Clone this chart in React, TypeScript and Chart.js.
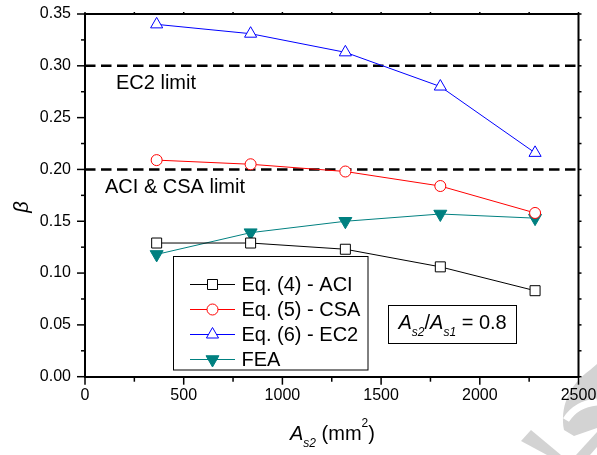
import React, { useEffect, useRef } from 'react';
import { Chart, registerables } from 'chart.js';

Chart.register(...registerables);

// ---------- data ----------
const xValues = [363, 839, 1319, 1800, 2280];
const aciValues = [0.129, 0.129, 0.123, 0.106, 0.083];
const csaValues = [0.209, 0.205, 0.198, 0.184, 0.158];
const ec2Values = [0.340, 0.331, 0.313, 0.280, 0.216];
const feaValues = [0.118, 0.139, 0.150, 0.157, 0.153];
const seriesLabels = ['Eq. (4) - ACI', 'Eq. (5) - CSA', 'Eq. (6) - EC2', 'FEA'];

const limitValues = [0.30, 0.20];
const limitLabels = ['EC2 limit', 'ACI & CSA limit'];

const xMin = 0;
const xMax = 2500;
const yMin = 0;
const yMax = 0.35;
const xTicks = [0, 500, 1000, 1500, 2000, 2500];
const yTicks = [0, 0.05, 0.1, 0.15, 0.2, 0.25, 0.3, 0.35];
const xMinorStep = 250;
const yMinorStep = 0.025;
const ratioValue = '0.8';

const FONT = '"Liberation Sans", Arial, Helvetica, sans-serif';

function drawMarker(ctx: any, ds: any, x: number, y: number) {
  const r = ds.pointRadius;
  ctx.save();
  ctx.fillStyle = ds.pointBackgroundColor;
  ctx.strokeStyle = ds.pointBorderColor;
  ctx.lineWidth = ds.pointBorderWidth;
  ctx.beginPath();
  if (ds.pointStyle === 'rect') {
    const s = r * Math.SQRT1_2;
    ctx.rect(x - s, y - s, 2 * s, 2 * s);
  } else if (ds.pointStyle === 'circle') {
    ctx.arc(x, y, r, 0, Math.PI * 2);
  } else {
    let rad = ((ds.pointRotation || 0) * Math.PI) / 180;
    ctx.moveTo(x + Math.sin(rad) * r, y - Math.cos(rad) * r);
    for (let k = 0; k < 2; k++) {
      rad += (2 * Math.PI) / 3;
      ctx.lineTo(x + Math.sin(rad) * r, y - Math.cos(rad) * r);
    }
    ctx.closePath();
  }
  ctx.fill();
  ctx.stroke();
  ctx.restore();
}

function drawRich(ctx: any, parts: any[], x0: number, y0: number) {
  let x = x0;
  for (const p of parts) {
    ctx.font = `${p.italic ? 'italic ' : ''}${p.size}px ${FONT}`;
    ctx.fillText(p.text, x, y0 + (p.dy || 0));
    x += ctx.measureText(p.text).width;
  }
  return x;
}

const decorPlugin = {
  id: 'decor',
  beforeDraw(chart: any) {
    // light grey watermark fragment at the bottom-right corner
    const ctx = chart.ctx;
    ctx.save();
    ctx.fillStyle = '#d3d3d3';
    ctx.beginPath();
    ctx.moveTo(590, 370);
    ctx.bezierCurveTo(568, 386, 560, 408, 564, 430);
    ctx.lineTo(574, 436);
    ctx.lineTo(597, 428);
    ctx.lineTo(597, 364);
    ctx.closePath();
    ctx.fill();
    ctx.beginPath();
    ctx.moveTo(597, 432);
    ctx.lineTo(597, 447);
    ctx.lineTo(590, 455);
    ctx.lineTo(576, 455);
    ctx.closePath();
    ctx.fill();
    ctx.beginPath();
    ctx.moveTo(521, 441);
    ctx.lineTo(531, 430);
    ctx.lineTo(561, 455);
    ctx.lineTo(547, 455);
    ctx.closePath();
    ctx.fill();
    ctx.strokeStyle = '#ffffff';
    ctx.lineWidth = 7;
    ctx.beginPath();
    ctx.moveTo(566, 420);
    ctx.quadraticCurveTo(576, 404, 597, 402);
    ctx.stroke();
    ctx.restore();
  },
  afterDraw(chart: any) {
    const ctx = chart.ctx;
    const { left, right, top, bottom } = chart.chartArea;
    const xs = chart.scales.x;
    const ys = chart.scales.y;
    ctx.save();
    ctx.strokeStyle = '#000';
    ctx.lineCap = 'butt';
    // top and right frame
    ctx.lineWidth = 2;
    ctx.beginPath();
    ctx.moveTo(left - 1, top);
    ctx.lineTo(right, top);
    ctx.lineTo(right, bottom + 1);
    ctx.stroke();

    // tick marks
    ctx.lineWidth = 1.5;
    const seg = (x1: number, y1: number, x2: number, y2: number) => {
      ctx.beginPath();
      ctx.moveTo(x1, y1);
      ctx.lineTo(x2, y2);
      ctx.stroke();
    };
    const nx = Math.round((xMax - xMin) / xMinorStep);
    for (let i = 0; i <= nx; i++) {
      const v = xMin + i * xMinorStep;
      const px = xs.getPixelForValue(v);
      const major = i % 2 === 0;
      seg(px, bottom, px, bottom + (major ? 8 : 5));
      seg(px, top, px, top - 2);
    }
    const ny = Math.round((yMax - yMin) / yMinorStep);
    for (let i = 0; i <= ny; i++) {
      const v = yMin + i * yMinorStep;
      const py = ys.getPixelForValue(v);
      const major = i % 2 === 0;
      seg(left, py, left - (major ? 8 : 4), py);
      seg(right, py, right + 3, py);
    }

    // limit labels
    ctx.fillStyle = '#000';
    ctx.textAlign = 'left';
    ctx.textBaseline = 'alphabetic';
    ctx.font = `20px ${FONT}`;
    ctx.fillText(limitLabels[0], 116, 88.5);
    ctx.fillText(limitLabels[1], 105, 192.5);

    // y title (beta)
    ctx.save();
    ctx.translate(22, 207);
    ctx.rotate(-Math.PI / 2);
    ctx.textAlign = 'center';
    ctx.textBaseline = 'middle';
    ctx.font = `italic 20px ${FONT}`;
    ctx.fillText('β', 0, 0);
    ctx.restore();

    // x title
    ctx.textAlign = 'left';
    ctx.textBaseline = 'alphabetic';
    drawRich(
      ctx,
      [
        { text: 'A', size: 20, italic: true },
        { text: 's2', size: 12, italic: true, dy: 6.5 },
        { text: ' (mm', size: 20 },
        { text: '2', size: 12, dy: -13 },
        { text: ')', size: 20 },
      ],
      290,
      440
    );

    // ratio annotation box
    ctx.lineWidth = 1;
    ctx.strokeRect(388.5, 305.5, 128, 38);
    drawRich(
      ctx,
      [
        { text: 'A', size: 20, italic: true },
        { text: 's2', size: 12, italic: true, dy: 7.5 },
        { text: '/', size: 20 },
        { text: 'A', size: 20, italic: true },
        { text: 's1', size: 12, italic: true, dy: 7.5 },
        { text: ' = ' + ratioValue, size: 20 },
      ],
      398.5,
      328.5
    );

    // legend
    ctx.lineWidth = 1;
    ctx.strokeStyle = '#000';
    ctx.strokeRect(173.5, 256.5, 194.5, 113.5);
    const series = chart.data.datasets.filter((d: any) => !d.isLimit);
    series.forEach((ds: any, i: number) => {
      const y = 284.5 + i * 25;
      ctx.strokeStyle = ds.borderColor;
      ctx.lineWidth = ds.borderWidth;
      ctx.beginPath();
      ctx.moveTo(190, y);
      ctx.lineTo(235, y);
      ctx.stroke();
      drawMarker(ctx, ds, 212.5, y);
      ctx.fillStyle = '#000';
      ctx.font = `20px ${FONT}`;
      ctx.textBaseline = 'middle';
      ctx.fillText(ds.label, 241.5, y + 1);
    });
    ctx.restore();
  },
};

const pts = (vals: number[]) => xValues.map((x, i) => ({ x, y: vals[i] }));

export default function App() {
  const ref = useRef<HTMLCanvasElement>(null);

  useEffect(() => {
    const canvas = ref.current;
    if (!canvas) return;
    const limitDs = (v: number, label: string) => ({
      label,
      isLimit: true,
      data: [
        { x: xMin, y: v },
        { x: xMax, y: v },
      ],
      showLine: true,
      borderColor: '#000000',
      borderWidth: 2.5,
      borderDash: [10.5, 5.5],
      pointRadius: 0,
      pointHoverRadius: 0,
    });
    const chart = new Chart(canvas, {
      type: 'scatter',
      data: {
        datasets: [
          {
            label: seriesLabels[0],
            data: pts(aciValues),
            showLine: true,
            borderColor: '#000000',
            borderWidth: 1,
            pointStyle: 'rect',
            pointRadius: 7.07,
            pointBackgroundColor: '#ffffff',
            pointBorderColor: '#000000',
            pointBorderWidth: 1,
          },
          {
            label: seriesLabels[1],
            data: pts(csaValues),
            showLine: true,
            borderColor: '#ff0000',
            borderWidth: 1,
            pointStyle: 'circle',
            pointRadius: 5.5,
            pointBackgroundColor: '#ffffff',
            pointBorderColor: '#ff0000',
            pointBorderWidth: 1,
          },
          {
            label: seriesLabels[2],
            data: pts(ec2Values),
            showLine: true,
            borderColor: '#0000ff',
            borderWidth: 1,
            pointStyle: 'triangle',
            pointRadius: 7,
            pointBackgroundColor: '#ffffff',
            pointBorderColor: '#0000ff',
            pointBorderWidth: 1,
          },
          {
            label: seriesLabels[3],
            data: pts(feaValues),
            showLine: true,
            borderColor: '#008080',
            borderWidth: 1,
            pointStyle: 'triangle',
            pointRotation: 180,
            pointRadius: 7.5,
            pointBackgroundColor: '#008080',
            pointBorderColor: '#008080',
            pointBorderWidth: 1,
          },
          limitDs(limitValues[0], limitLabels[0]),
          limitDs(limitValues[1], limitLabels[1]),
        ] as any,
      },
      options: {
        responsive: false,
        animation: false,
        devicePixelRatio: 1,
        events: [],
        layout: { padding: { top: 14, right: 18.5, left: 0, bottom: 0 } },
        plugins: { legend: { display: false }, tooltip: { enabled: false } },
        scales: {
          x: {
            type: 'linear',
            min: xMin,
            max: xMax,
            afterBuildTicks: (s: any) => {
              s.ticks = xTicks.map((v) => ({ value: v }));
            },
            afterFit: (s: any) => {
              s.height = 78.3;
              s.paddingLeft = 0;
              s.paddingRight = 0;
            },
            ticks: {
              font: { family: FONT, size: 16 },
              color: '#000',
              padding: 9,
              maxRotation: 0,
              callback: (v: any) => String(v),
            },
            grid: { display: false, drawTicks: false },
            border: { display: true, color: '#000', width: 2 },
          },
          y: {
            type: 'linear',
            min: yMin,
            max: yMax,
            afterBuildTicks: (s: any) => {
              s.ticks = yTicks.map((v) => ({ value: v }));
            },
            afterFit: (s: any) => {
              s.width = 85;
              s.paddingTop = 0;
              s.paddingBottom = 0;
            },
            ticks: {
              font: { family: FONT, size: 16 },
              color: '#000',
              padding: 14,
              callback: (v: any) => Number(v).toFixed(2),
            },
            grid: { display: false, drawTicks: false },
            border: { display: true, color: '#000', width: 2 },
          },
        },
      } as any,
      plugins: [decorPlugin],
    });
    return () => chart.destroy();
  }, []);

  return (
    <div style={{ position: 'absolute', left: 0, top: 0, width: 597, height: 455, background: '#fff' }}>
      <canvas ref={ref} width={597} height={455} style={{ display: 'block' }} />
    </div>
  );
}
